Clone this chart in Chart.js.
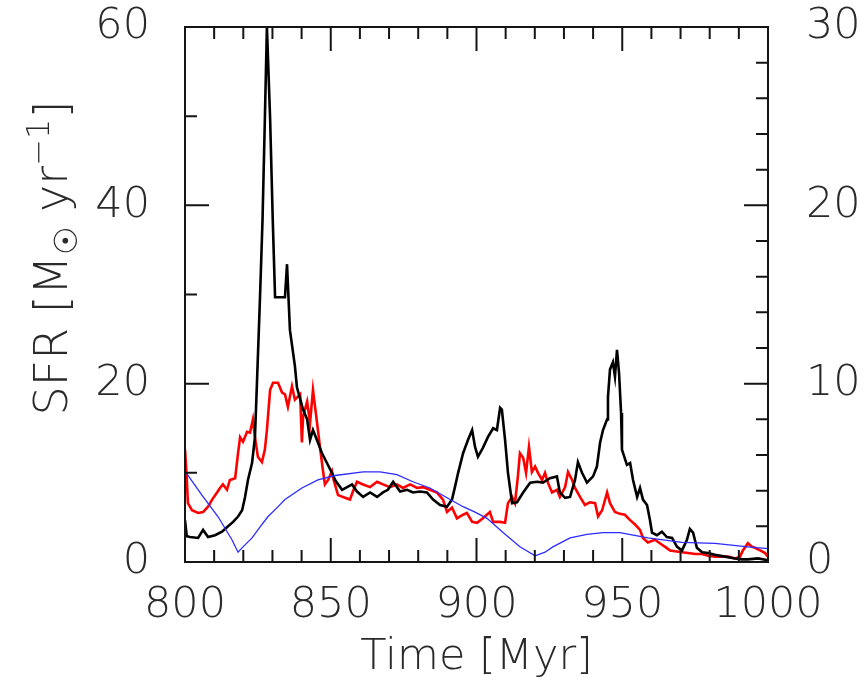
<!DOCTYPE html>
<html>
<head>
<meta charset="utf-8">
<script src="https://cdn.jsdelivr.net/npm/chart.js@4"></script>
<style>
  html, body { margin: 0; padding: 0; background: #fff; }
  #sfrChart { display: block; }
</style>
</head>
<body>
<canvas id="sfrChart" width="864" height="680"></canvas>
<script>
// time axis (Myr) and star formation rate (Msun/yr)
var blackTime = [800, 800.6, 801.7, 804.5, 806.2, 807.9, 810.3, 812.7, 814.4, 816.5, 818.2, 819.6, 820.6, 821.6, 823, 824, 824.6, 825.7, 826.6, 827.4, 828.1, 829.2, 830.1, 830.9, 834.3, 835, 836, 837.7, 838.4, 840.5, 841.9, 842.9, 843.9, 845.6, 847, 848.7, 850.4, 851.5, 852.1, 853.9, 855.6, 857.3, 859, 861.1, 863.5, 865.9, 867.9, 869.6, 871.4, 873.8, 876.2, 878.2, 880.6, 883, 885.1, 887.5, 889.9, 891.6, 892.6, 893.7, 895.4, 897.1, 898.5, 899.5, 900.5, 902.2, 903.9, 905.7, 907, 908.1, 908.7, 909.8, 910.8, 912.2, 913.9, 916, 918.4, 920.8, 922.8, 925.2, 927.6, 928.6, 930.4, 932.1, 933.8, 934.8, 936.2, 937.9, 940, 941.3, 942.4, 943.4, 944.8, 945.1, 945.8, 946.8, 947.5, 948.2, 948.9, 949.6, 949.9, 951.6, 952.7, 953.7, 955.1, 956.1, 957.1, 958.5, 959.5, 960.2, 961.9, 963.6, 965.3, 967.1, 968.8, 970.5, 972.2, 973.2, 974.3, 975.6, 977.4, 979.4, 981.8, 985.2, 988.7, 991.1, 993.1, 996.6, 1000];
var blackSfr = [4.7, 2.9, 2.8, 2.7, 3.6, 2.8, 3.0, 3.4, 3.9, 4.5, 5.1, 5.8, 7.3, 9.2, 11.1, 14, 19.3, 29.4, 38.4, 49.7, 60, 49.7, 38.4, 29.7, 29.7, 33.4, 26, 22, 19.6, 17.1, 16, 13.7, 14.8, 13.4, 12.2, 11.1, 10, 9.2, 8.9, 8.1, 8.4, 8.7, 7.9, 7.3, 7.8, 7.3, 7.8, 8.1, 9, 7.9, 8.1, 7.8, 7.9, 7.8, 7, 6.4, 6.2, 7, 8.4, 10, 12.2, 13.7, 14.8, 12.9, 11.8, 12.8, 14, 15, 14.8, 17.3, 17.1, 13.7, 10, 6.6, 6.7, 7.8, 8.9, 9, 8.9, 9.4, 9.6, 7.8, 7.2, 7.3, 9.2, 11.2, 10, 8.9, 9.6, 10.7, 13.4, 14.8, 16, 18.5, 21.6, 22.4, 20.8, 23.8, 21.2, 16.7, 12.6, 10.9, 11.1, 9.2, 7.3, 8.3, 7, 6.4, 4.7, 3.3, 3, 3.4, 2.8, 2.7, 1.7, 1.3, 2.5, 3.7, 3.3, 1.6, 1.1, 1, 0.8, 0.6, 0.4, 0.3, 0.3, 0.4, 0.2];

var redTime = [800, 800.5, 801, 802.4, 804.5, 806.2, 807.9, 809.3, 811, 812, 813, 814.4, 815.4, 817.2, 818.2, 818.9, 819.9, 821.3, 822.3, 823.3, 824, 825, 826.4, 827.4, 828.1, 829.2, 830.2, 831.9, 833.3, 834.3, 835.3, 836.7, 837.7, 839.5, 840.1, 840.5, 841.9, 842.9, 843.9, 845.3, 846.3, 847.3, 848, 849.1, 850.4, 851, 852.5, 854.9, 856.6, 857.6, 859, 861.1, 863.5, 865.9, 867.9, 870.3, 872.7, 874.8, 877.2, 879.6, 881.6, 884, 886.4, 888.5, 889.9, 891.6, 893.3, 895.4, 896.7, 898.5, 900.2, 902.2, 904.6, 905.7, 908.1, 909.8, 910.8, 912.2, 913.2, 914.2, 914.9, 916, 917, 918, 919, 920.1, 921.1, 922.5, 923.5, 924.5, 925.9, 927.6, 928.6, 930.4, 931.4, 932.8, 933.8, 935.5, 937.2, 938.9, 940.7, 941.7, 943.1, 944.8, 945.8, 947.5, 949.2, 950.9, 952.7, 954.4, 956.1, 957.1, 958.8, 961.2, 962.9, 964.7, 966.4, 968.1, 970.5, 972.6, 975, 977.4, 979.4, 981.8, 984.2, 986.3, 988.7, 990.4, 991.4, 993.1, 994.5, 995.5, 997.3, 999, 1000];
var redSfr = [12.6, 10, 6.6, 5.8, 5.5, 5.6, 6.2, 7, 7.8, 8.3, 8.7, 8.1, 9.2, 9.4, 12.2, 14, 13.5, 14.6, 14.5, 16, 14, 11.8, 11.2, 12.6, 14.8, 19.3, 20.1, 20.1, 19, 18.8, 17.4, 19.7, 18.2, 18.8, 13.4, 16.3, 18, 15.6, 19.3, 15.6, 12.9, 10.3, 8.7, 9.2, 10.2, 9.2, 7.5, 7.2, 7, 7.9, 9, 8.7, 8.4, 9, 8.7, 8.4, 8.7, 8.3, 8.7, 8.3, 8.4, 8.1, 7.8, 7, 5.6, 6.1, 4.9, 5.3, 5.5, 4.5, 4.4, 4.9, 5.6, 4.5, 4.5, 4.4, 6.6, 7.3, 6.6, 9.6, 12.2, 11.7, 10, 12.9, 10.1, 10.7, 10, 9.2, 10, 8.9, 7.8, 8.1, 7.3, 8.4, 10.1, 9.2, 8.3, 7.3, 6.4, 6.7, 6.6, 5.1, 5.8, 7.8, 6.6, 5.6, 5.4, 5.3, 4.7, 4.2, 3.6, 2.7, 2.2, 2.5, 2.1, 1.7, 1.3, 1.2, 1.1, 1, 0.9, 0.9, 0.7, 0.6, 0.6, 0.6, 0.4, 0.6, 1.3, 2.1, 1.7, 1.6, 1.3, 1, 0.6];

var blueTime = [800, 805.8, 811.3, 816.1, 818.2, 819.9, 823, 825.7, 828.5, 831.6, 834.3, 840.1, 845.6, 851.5, 861.1, 866.9, 872.7, 878.2, 884, 889.9, 895.4, 899.5, 903.6, 909.1, 914.9, 920.1, 923.5, 926.2, 932.1, 937.9, 943.4, 949.2, 958.8, 970.5, 981.8, 993.1, 1000];
var blueSfr = [10.2, 7.5, 5.1, 2.5, 1.1, 1.7, 2.7, 3.9, 5.1, 6.1, 7, 8.3, 9.2, 9.7, 10.1, 10.1, 9.8, 9, 8.3, 7.2, 6.2, 5.6, 4.9, 3.3, 1.7, 0.7, 1.1, 1.7, 2.7, 3.1, 3.3, 3.3, 2.7, 2.2, 2.1, 1.7, 1.5];

var xTickLabels = [800, 850, 900, 950, 1000];
var yTickLabels = [0, 20, 40, 60];
var y2TickLabels = [0, 10, 20, 30];

var FONT = 'DejaVu Sans';
var TEXT = '#2a2a2a';

function points(xs, ys) {
  return xs.map(function (t, i) { return { x: t, y: ys[i] }; });
}

function fixedTicks(values) {
  return function (scale) {
    scale.ticks = values.map(function (v) { return { value: v }; });
  };
}

function plainLabel(v) { return String(v); }

// box round the plot plus inward tick marks on all four sides
var frameTicks = {
  id: 'frameTicks',
  afterDatasetsDraw: function (chart) {
    var ctx = chart.ctx;
    var a = chart.chartArea;
    var sx = chart.scales.x, sy = chart.scales.y, sy2 = chart.scales.y2;
    ctx.save();
    ctx.strokeStyle = '#151515';
    ctx.lineWidth = 2;
    ctx.beginPath();
    var v, p, len;
    for (v = 800; v <= 1000; v += 10) {
      p = sx.getPixelForValue(v);
      len = v % 50 === 0 ? 24 : 12;
      ctx.moveTo(p, a.bottom); ctx.lineTo(p, a.bottom - len);
      ctx.moveTo(p, a.top); ctx.lineTo(p, a.top + len);
    }
    for (v = 0; v <= 60; v += 10) {
      p = sy.getPixelForValue(v);
      len = v % 20 === 0 ? 24 : 12;
      ctx.moveTo(a.left, p); ctx.lineTo(a.left + len, p);
    }
    for (v = 0; v <= 30; v += 2) {
      p = sy2.getPixelForValue(v);
      len = v % 10 === 0 ? 24 : 12;
      ctx.moveTo(a.right, p); ctx.lineTo(a.right - len, p);
    }
    ctx.stroke();
    ctx.strokeRect(a.left, a.top, a.right - a.left, a.bottom - a.top);
    ctx.restore();
  }
};

// y title with the solar symbol as subscript and -1 as superscript
var yTitle = {
  id: 'yTitle',
  afterDraw: function (chart) {
    var ctx = chart.ctx;
    var parts = [
      { t: 'SFR [M', size: 46, dy: 0 },
      { t: '\u2609', size: 32, dy: 10 },
      { t: ' yr', size: 46, dy: 0 },
      { t: '\u22121', size: 32, dy: -18 },
      { t: ']', size: 46, dy: 0 }
    ];
    ctx.save();
    ctx.fillStyle = TEXT;
    ctx.textBaseline = 'alphabetic';
    var total = 0;
    parts.forEach(function (p) {
      ctx.font = '200 ' + p.size + 'px "' + FONT + '"';
      p.w = ctx.measureText(p.t).width;
      total += p.w;
    });
    ctx.translate(67, 258);
    ctx.rotate(-Math.PI / 2);
    var x = -total / 2;
    parts.forEach(function (p) {
      ctx.font = '200 ' + p.size + 'px "' + FONT + '"';
      ctx.fillText(p.t, x, p.dy);
      x += p.w;
    });
    ctx.restore();
  }
};

var tickFont = { family: FONT, size: 43, weight: '200' };

new Chart(document.getElementById('sfrChart'), {
  type: 'line',
  data: {
    datasets: [
      {
        data: points(blueTime, blueSfr),
        borderColor: '#2b2bff',
        borderWidth: 1.3,
        order: 0
      },
      {
        data: points(blackTime, blackSfr),
        borderColor: '#000000',
        borderWidth: 2.6,
        order: 1
      },
      {
        data: points(redTime, redSfr),
        borderColor: '#ff0000',
        borderWidth: 2.6,
        order: 2
      }
    ]
  },
  options: {
    responsive: false,
    animation: false,
    elements: { point: { radius: 0 }, line: { tension: 0 } },
    layout: { padding: { top: 27, left: 0, right: 0, bottom: 0 } },
    plugins: { legend: { display: false }, tooltip: { enabled: false } },
    scales: {
      x: {
        type: 'linear',
        min: 800,
        max: 1000,
        grid: { display: false, drawTicks: false },
        border: { display: false },
        afterBuildTicks: fixedTicks(xTickLabels),
        ticks: { font: tickFont, color: TEXT, padding: 18, maxRotation: 0, autoSkip: false, callback: plainLabel },
        title: { display: true, text: 'Time [Myr]', font: tickFont, color: TEXT, padding: { top: -4, bottom: -4 } },
        afterFit: function (s) {
          s.height = 118;
          s.paddingLeft = 0;
          s.paddingRight = 0;
        }
      },
      y: {
        position: 'left',
        min: 0,
        max: 60,
        grid: { display: false, drawTicks: false },
        border: { display: false },
        afterBuildTicks: fixedTicks(yTickLabels),
        ticks: { font: tickFont, color: TEXT, padding: 35, autoSkip: false, callback: plainLabel },
        afterFit: function (s) {
          s.width = 185;
          s.paddingTop = 0;
          s.paddingBottom = 0;
        }
      },
      y2: {
        position: 'right',
        min: 0,
        max: 30,
        grid: { display: false, drawTicks: false },
        border: { display: false },
        afterBuildTicks: fixedTicks(y2TickLabels),
        ticks: { font: tickFont, color: TEXT, padding: 38, autoSkip: false, callback: plainLabel },
        afterFit: function (s) {
          s.width = 96;
          s.paddingTop = 0;
          s.paddingBottom = 0;
        }
      }
    }
  },
  plugins: [frameTicks, yTitle]
});
</script>
</body>
</html>
